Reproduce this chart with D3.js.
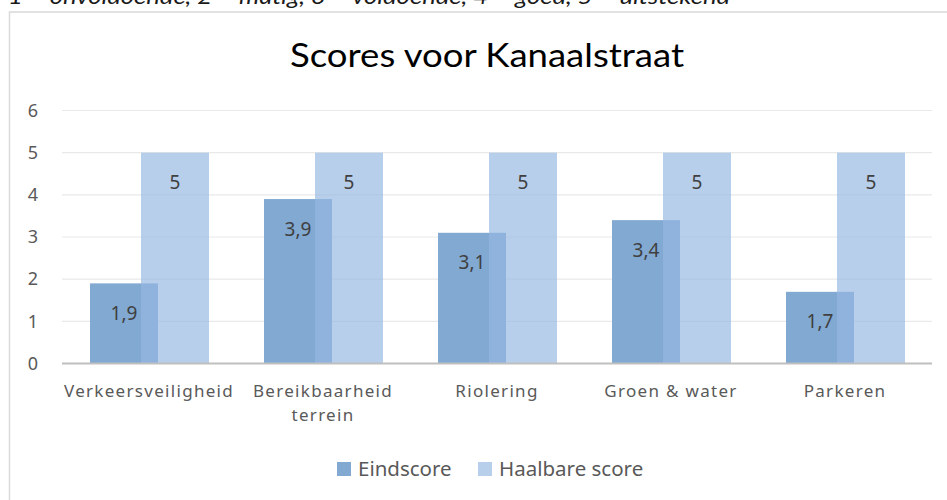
<!DOCTYPE html>
<html>
<head>
<meta charset="utf-8">
<script src="https://cdn.jsdelivr.net/npm/d3@7"></script>
<style>
  html, body { margin: 0; padding: 0; background: #fff; }
  svg { display: block; }
</style>
</head>
<body>
<svg id="chart" width="947" height="500"></svg>
<script>
const categories = ["Verkeersveiligheid", "Bereikbaarheid terrein", "Riolering", "Groen & water", "Parkeren"];
const categoryLines = [["Verkeersveiligheid"], ["Bereikbaarheid", "terrein"], ["Riolering"], ["Groen & water"], ["Parkeren"]];
const eindscore = [1.9, 3.9, 3.1, 3.4, 1.7];
const haalbare = [5, 5, 5, 5, 5];
const seriesNames = ["Eindscore", "Haalbare score"];
const yTicks = [0, 1, 2, 3, 4, 5, 6];
const titleText = "Scores voor Kanaalstraat";
const noteText = "1 = onvoldoende, 2 = matig, 3 = voldoende, 4 = goed, 5 = uitstekend";

const svg = d3.select("#chart");
const plot = { left: 62, right: 932, top: 110.5, bottom: 363.5 };

const fmt = v => String(v).replace(".", ",");

// frame
svg.append("rect").attr("x", 9.5).attr("y", 12).attr("width", 960).attr("height", 520)
  .attr("fill", "#fff").attr("stroke", "#d9d9d9").attr("stroke-width", 1.5);

// cut-off note on top
svg.append("text").attr("x", 8).attr("y", 4)
  .attr("font-family", "Lato, 'Open Sans', sans-serif").attr("font-style", "italic")
  .attr("font-size", 22).attr("fill", "#1a1a1a")
  .attr("textLength", 722).attr("lengthAdjust", "spacingAndGlyphs")
  .text(noteText);

// title
svg.append("text").attr("x", 487).attr("y", 67).attr("text-anchor", "middle")
  .attr("font-family", "Lato, sans-serif").attr("font-size", 33).attr("fill", "#000")
  .attr("textLength", 394).attr("lengthAdjust", "spacingAndGlyphs")
  .text(titleText);

const x = d3.scaleBand().domain(categories).range([plot.left, plot.right]).paddingInner(0).paddingOuter(0);
const y = d3.scaleLinear().domain([0, 6]).range([plot.bottom, plot.top]);

// gridlines
svg.append("g").selectAll("line").data(yTicks.filter(d => d > 0)).join("line")
  .attr("x1", plot.left).attr("x2", plot.right)
  .attr("y1", d => y(d)).attr("y2", d => y(d))
  .attr("stroke", "#e9e9e9").attr("stroke-width", 1.2);

// y tick labels
svg.append("g").selectAll("text").data(yTicks).join("text")
  .attr("x", 33).attr("y", d => y(d)).attr("dy", "0.35em").attr("text-anchor", "middle")
  .attr("font-family", "'Noto Sans', sans-serif").attr("font-size", 18).attr("fill", "#595959")
  .text(d => d);

const bw = x.bandwidth();
const barW = bw * 68 / 174;
const offE = bw * 28 / 174;
const offH = bw * 79 / 174;

// Eindscore bars
svg.append("g").selectAll("rect").data(categories).join("rect")
  .attr("x", (d) => x(d) + offE).attr("width", barW)
  .attr("y", (d, i) => y(eindscore[i])).attr("height", (d, i) => y(0) - y(eindscore[i]))
  .attr("fill", "#81a9d1");

// Haalbare bars
svg.append("g").selectAll("rect").data(categories).join("rect")
  .attr("x", (d) => x(d) + offH).attr("width", barW)
  .attr("y", (d, i) => y(haalbare[i])).attr("height", (d, i) => y(0) - y(haalbare[i]))
  .attr("fill", "rgb(150,184,225)").attr("fill-opacity", 0.675);

// axis line
svg.append("line").attr("x1", plot.left).attr("x2", plot.right)
  .attr("y1", y(0)).attr("y2", y(0)).attr("stroke", "#bfbfbf").attr("stroke-width", 2);

// data labels
const lblFont = "'Noto Sans', sans-serif";
svg.append("g").selectAll("text").data(categories).join("text")
  .attr("x", d => x(d) + offE + barW / 2).attr("y", (d, i) => y(eindscore[i]) + 30)
  .attr("dy", "0.35em").attr("text-anchor", "middle")
  .attr("font-family", lblFont).attr("font-size", 19).attr("fill", "#404040")
  .text((d, i) => fmt(eindscore[i]));
svg.append("g").selectAll("text").data(categories).join("text")
  .attr("x", d => x(d) + offH + barW / 2).attr("y", (d, i) => y(haalbare[i]) + 30)
  .attr("dy", "0.35em").attr("text-anchor", "middle")
  .attr("font-family", lblFont).attr("font-size", 19).attr("fill", "#404040")
  .text((d, i) => fmt(haalbare[i]));

// category labels
const xl = svg.append("g").selectAll("text").data(categories).join("text")
  .attr("x", d => x(d) + bw / 2).attr("y", 397).attr("text-anchor", "middle")
  .attr("font-family", lblFont).attr("font-size", 17).attr("fill", "#595959")
  .attr("letter-spacing", 1.3);
xl.each(function(d, i) {
  const t = d3.select(this);
  categoryLines[i].forEach((ln, j) => {
    t.append("tspan").attr("x", x(d) + bw / 2).attr("dy", j === 0 ? 0 : 24).text(ln);
  });
});

// legend
const legColors = ["#81a9d1", "#b8cfeb"];
const legX = [337, 478];
const leg = svg.append("g");
seriesNames.forEach((s, i) => {
  leg.append("rect").attr("x", legX[i]).attr("y", 462).attr("width", 14).attr("height", 14).attr("fill", legColors[i]);
  leg.append("text").attr("x", legX[i] + 21).attr("y", 469).attr("dy", "0.35em")
    .attr("font-family", lblFont).attr("font-size", 20.5).attr("fill", "#595959").text(s);
});
</script>
</body>
</html>
